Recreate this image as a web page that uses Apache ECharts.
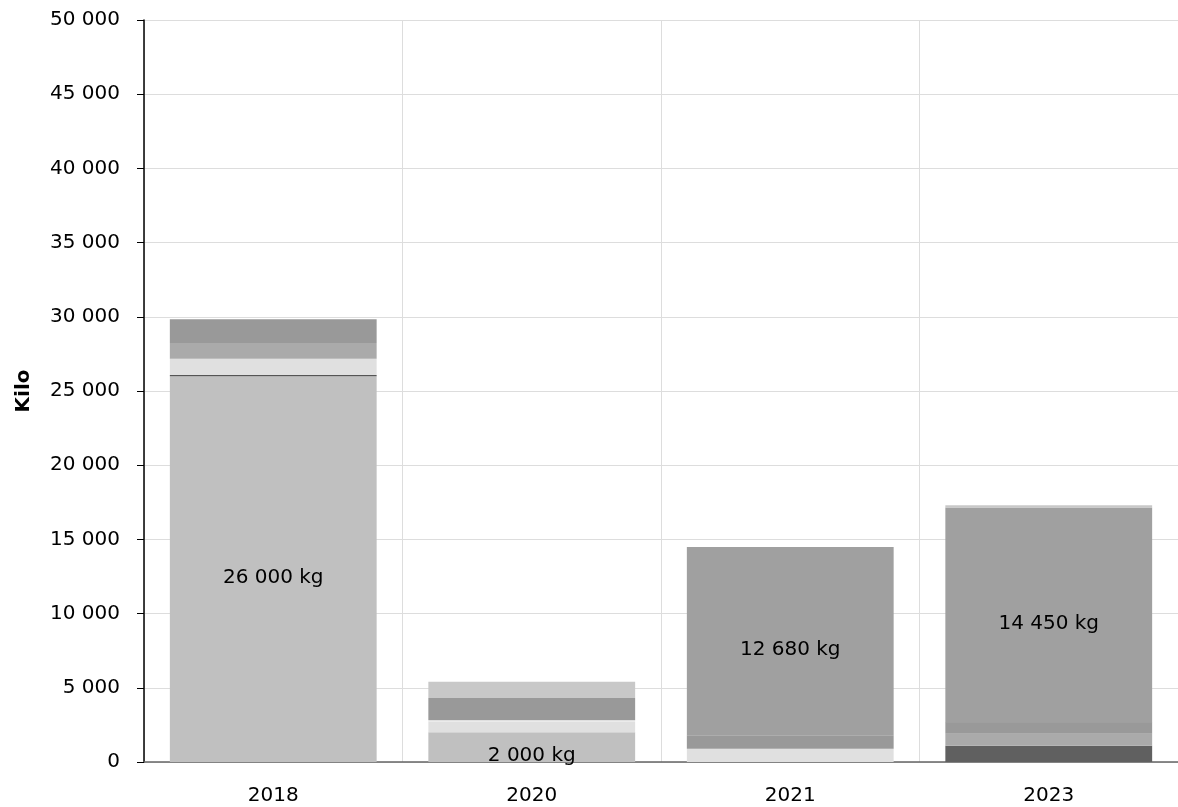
<!DOCTYPE html>
<html><head><meta charset="utf-8">
<script src="https://cdn.jsdelivr.net/npm/echarts@6/dist/echarts.min.js"></script>
<style>html,body{margin:0;padding:0;background:#fff}#c{width:1178px;height:807px}</style>
</head><body><div id="c"></div>
<script>
const categories = ['2018', '2020', '2021', '2023'];
const yTicks = [0, 5000, 10000, 15000, 20000, 25000, 30000, 35000, 40000, 45000, 50000];
// stacked segments, bottom to top
const segDark    = [0, 0, 0, 1100];
const segBase    = [26000, 2000, 0, 0];
const segLine    = [80, 0, 0, 0];
const segPale    = [1100, 750, 900, 0];
const segGap     = [0, 60, 0, 0];
const segMid     = [1050, 0, 0, 800];
const segDeep    = [1600, 1500, 900, 750];
const segThin    = [0, 0, 0, 50];
const segMain    = [0, 0, 12680, 14450];
const segTop     = [0, 1100, 0, 150];
const segs = [
  {data: segDark, color: '#606060'},
  {data: segBase, color: '#c0c0c0', label: true},
  {data: segLine, color: '#555555'},
  {data: segPale, color: '#e0e0e0'},
  {data: segGap, color: '#f4f4f4'},
  {data: segMid, color: '#aaaaaa'},
  {data: segDeep, color: '#999999'},
  {data: segThin, color: '#888888'},
  {data: segMain, color: '#a0a0a0', label: true},
  {data: segTop, color: '#c8c8c8'}
];
const fmt = v => String(v).replace(/\B(?=(\d{3})+(?!\d))/g, ' ');
const FONT = 'DejaVu Sans';
const chart = echarts.init(document.getElementById('c'), null, {renderer: 'canvas'});
chart.setOption({
  animation: false,
  grid: {left: 144, top: 20, width: 1036, bottom: 45, containLabel: false},
  xAxis: {
    type: 'category', data: categories,
    axisLine: {lineStyle: {color: '#666', width: 1.5}},
    axisTick: {alignWithLabel: true, length: 8, lineStyle: {color: '#999'}},
    axisLabel: {color: '#000', fontSize: 20, fontFamily: FONT, margin: 24},
    splitLine: {show: true, lineStyle: {color: '#dddddd'}}
  },
  yAxis: {
    type: 'value', min: yTicks[0], max: yTicks[yTicks.length - 1], interval: yTicks[1] - yTicks[0],
    name: 'Kilo', nameLocation: 'middle', nameGap: 110, nameRotate: 90,
    nameTextStyle: {fontWeight: 'bold', fontSize: 20, fontFamily: FONT, color: '#000'},
    axisLine: {show: true, lineStyle: {color: '#000', width: 1.5}},
    axisTick: {show: true, length: 7, lineStyle: {color: '#000'}},
    axisLabel: {color: '#000', fontSize: 20, fontFamily: FONT, margin: 24, formatter: v => fmt(v)},
    splitLine: {lineStyle: {color: '#dddddd'}}
  },
  series: segs.map(s => ({
    type: 'bar', stack: 'all', barWidth: '80%',
    data: s.data,
    itemStyle: {color: s.color},
    label: s.label ? {
      show: true, position: 'inside', offset: [0, 9], color: '#000', fontSize: 20, fontFamily: FONT,
      formatter: p => p.value > 0 ? fmt(p.value) + ' kg' : ''
    } : {show: false}
  }))
});
</script></body></html>
